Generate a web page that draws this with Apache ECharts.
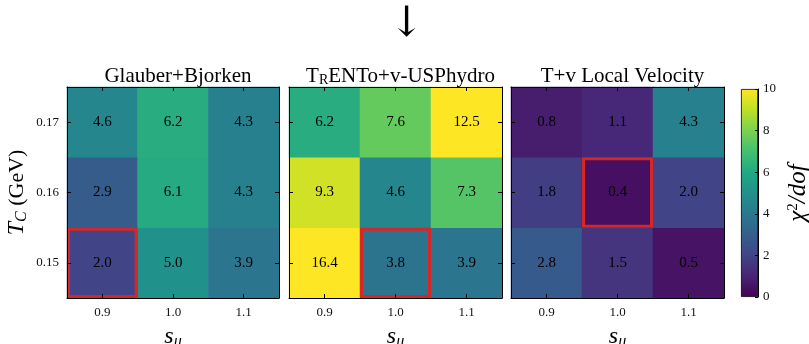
<!DOCTYPE html>
<html>
<head>
<meta charset="utf-8">
<script src="https://cdn.jsdelivr.net/npm/echarts@6/dist/echarts.min.js"></script>
<style>
  html, body { margin: 0; padding: 0; background: #fff; }
  #chart { width: 809px; height: 344px; }
</style>
</head>
<body>
<div id="chart"></div>
<script>
// Grid of scale parameters
const sMu = ['0.9', '1.0', '1.1'];
const tC = ['0.15', '0.16', '0.17'];

// chi^2/dof per model, rows ordered by T_C (0.15, 0.16, 0.17), columns by s_mu
const glauberBjorken = [
  [2.0, 5.0, 3.9],
  [2.9, 6.1, 4.3],
  [4.6, 6.2, 4.3]
];
const trentoUSPhydro = [
  [16.4, 3.8, 3.9],
  [9.3, 4.6, 7.3],
  [6.2, 7.6, 12.5]
];
const localVelocity = [
  [2.8, 1.5, 0.5],
  [1.8, 0.4, 2.0],
  [0.8, 1.1, 4.3]
];

// Best-fit cell per model: [s_mu index, T_C index]
const bestFit = [[0, 0], [1, 0], [1, 1]];

// Colour bar ticks
const cbarMin = 0;
const cbarMax = 10;
const cbarStep = 2;

const viridis = ['#440154', '#482475', '#414487', '#355f8d', '#2a788e', '#21918c',
                 '#22a884', '#44bf70', '#7ad151', '#bddf26', '#fde725'];

const serif = 'Liberation Serif';
const models = [glauberBjorken, trentoUSPhydro, localVelocity];

const panels = [
  { left: 67, width: 212 },
  { left: 289, width: 213 },
  { left: 511, width: 213 }
];
const gridTop = 87, gridHeight = 211;

const chart = echarts.init(document.getElementById('chart'));

const grids = panels.map(p => ({ left: p.left, top: gridTop, width: p.width, height: gridHeight, outerBoundsMode: 'none', containLabel: false }));
grids.push({ left: 741, top: 89, width: 17, height: 208, outerBoundsMode: 'none', containLabel: false });

const frameLine = { show: true, lineStyle: { color: '#000', width: 1 } };
const innerTick = { show: true, inside: true, alignWithLabel: true, length: 4, lineStyle: { color: '#000' } };

// Math-style name pieces: italic symbol, lowered subscript, upright text
const mathRich = {
  it: { fontFamily: serif, fontStyle: 'italic', fontSize: 24, color: '#000', lineHeight: 28 },
  sub: { fontFamily: serif, fontStyle: 'italic', fontSize: 16, color: '#000', lineHeight: 18, padding: [10, 0, 0, 0] },
  rm: { fontFamily: serif, fontSize: 22, color: '#000', lineHeight: 28 }
};

const xAxes = [], yAxes = [];
panels.forEach((p, g) => {
  xAxes.push({
    type: 'category', gridIndex: g, data: sMu, position: 'bottom', z: 5,
    axisLine: frameLine, axisTick: innerTick,
    axisLabel: { fontFamily: serif, fontSize: 13, color: '#111', margin: 8 },
    name: '{it|s}{sub|μ}', nameLocation: 'middle', nameGap: 18,
    nameTextStyle: { rich: mathRich }
  });
  xAxes.push({
    type: 'category', gridIndex: g, data: sMu, position: 'top', z: 5,
    axisLine: frameLine, axisTick: innerTick, axisLabel: { show: false }
  });
  yAxes.push({
    type: 'category', gridIndex: g, data: tC, position: 'left', z: 5,
    axisLine: frameLine, axisTick: innerTick,
    axisLabel: { show: g === 0, fontFamily: serif, fontSize: 13, color: '#111', margin: 8 },
    name: g === 0 ? '{it|T}{sub|C}{rm| (GeV)}' : '', nameLocation: 'middle', nameGap: 36, nameRotate: 90,
    nameTextStyle: { rich: mathRich }
  });
  yAxes.push({
    type: 'category', gridIndex: g, data: tC, position: 'right', z: 5,
    axisLine: frameLine, axisTick: innerTick, axisLabel: { show: false }
  });
});

// Colour bar axes
xAxes.push({
  type: 'category', gridIndex: 3, data: [''], axisLine: { show: false },
  axisTick: { show: false }, axisLabel: { show: false }
});
yAxes.push({
  type: 'value', gridIndex: 3, min: cbarMin, max: cbarMax, interval: cbarStep, position: 'right', z: 5,
  axisLine: frameLine, splitLine: { show: false },
  axisTick: { show: true, inside: true, length: 3, lineStyle: { color: '#000' } },
  axisLabel: { fontFamily: serif, fontSize: 13, color: '#111', margin: 5 },
  name: '{it|χ}{sup|2}{it|/dof}', nameLocation: 'middle', nameGap: 26, nameRotate: 90,
  nameTextStyle: {
    rich: {
      it: { fontFamily: serif, fontStyle: 'italic', fontSize: 25, color: '#000', lineHeight: 28 },
      sup: { fontFamily: serif, fontSize: 15, color: '#000', lineHeight: 18, padding: [0, 0, 10, 0] }
    }
  }
});

const series = [];
models.forEach((m, g) => {
  const data = [];
  m.forEach((row, yi) => row.forEach((v, xi) => data.push([xi, yi, v, Math.min(v, cbarMax)])));
  series.push({
    type: 'heatmap', xAxisIndex: 2 * g, yAxisIndex: 2 * g, data: data, z: 1,
    label: {
      show: true, fontFamily: serif, fontSize: 15, color: '#000',
      formatter: p => p.value[2].toFixed(1)
    },
    emphasis: { disabled: true }
  });
});
models.forEach((m, g) => {
  series.push({
    type: 'custom', xAxisIndex: 2 * g, yAxisIndex: 2 * g, z: 3, silent: true,
    data: [bestFit[g]],
    renderItem: (params, api) => {
      const c = api.coord([api.value(0), api.value(1)]);
      const s = api.size([1, 1]);
      const inset = 1.5;
      return {
        type: 'rect',
        shape: { x: c[0] - s[0] / 2 + inset, y: c[1] - s[1] / 2 + inset, width: s[0] - 2 * inset, height: s[1] - 2 * inset },
        style: { fill: 'none', stroke: '#d62728', lineWidth: 3 }
      };
    }
  });
});

// Colour bar body
series.push({
  type: 'bar', xAxisIndex: 3 * 2, yAxisIndex: 3 * 2, data: [cbarMax], barWidth: '100%', silent: true,
  itemStyle: {
    color: new echarts.graphic.LinearGradient(0, 1, 0, 0,
      viridis.map((c, i) => ({ offset: i / (viridis.length - 1), color: c }))),
    borderColor: '#000', borderWidth: 0.8
  }
});

const titleRich = {
  sub: { fontFamily: serif, fontSize: 14, color: '#000', lineHeight: 18, padding: [8, 0, 0, 0] }
};
const titles = [
  { text: 'Glauber+Bjorken' },
  { text: 'T{sub|R}ENTo+v-USPhydro' },
  { text: 'T+v Local Velocity' }
].map((t, g) => ({
  text: t.text,
  left: panels[g].left + panels[g].width / 2,
  top: 58,
  textAlign: 'center',
  textStyle: { fontFamily: serif, fontSize: 21, fontWeight: 'normal', color: '#000', lineHeight: 26, rich: titleRich }
}));

chart.setOption({
  animation: false,
  title: titles,
  grid: grids,
  xAxis: xAxes,
  yAxis: yAxes,
  visualMap: {
    type: 'continuous', show: false, min: cbarMin, max: cbarMax, dimension: 3,
    seriesIndex: [0, 1, 2], inRange: { color: viridis }
  },
  graphic: [{
    type: 'text', left: 389, top: 4,
    style: { text: '↓', font: '42px "DejaVu Serif"', fill: '#000' }
  }],
  series: series
});
</script>
</body>
</html>
